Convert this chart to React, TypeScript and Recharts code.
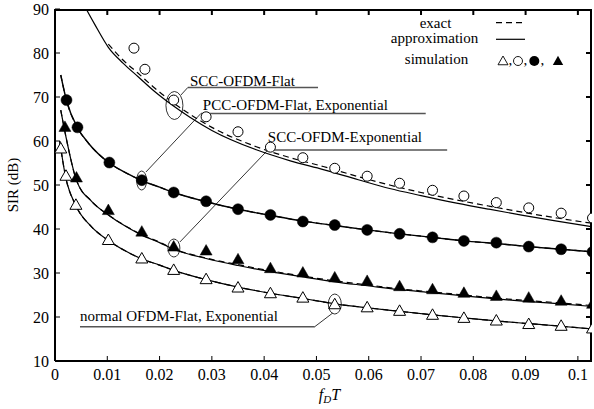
import React from 'react';
import {
  ComposedChart,
  Line,
  Scatter,
  XAxis,
  YAxis,
  ReferenceLine,
  ReferenceDot,
  Customized,
} from 'recharts';

const FONT = '"Liberation Serif", "Times New Roman", Times, serif';

// ---------- axes ----------
const xTicks = [0, 0.01, 0.02, 0.03, 0.04, 0.05, 0.06, 0.07, 0.08, 0.09, 0.1];
const xTickLabels = ['0', '0.01', '0.02', '0.03', '0.04', '0.05', '0.06', '0.07', '0.08', '0.09', '0.1'];
const yTicks = [10, 20, 30, 40, 50, 60, 70, 80, 90];
const xDomain = [0, 0.1027];
const yDomain = [10, 90];

// ---------- SCC-OFDM-Flat ----------
const sccFlatApproxX = [0.0056, 0.0076, 0.0102, 0.013, 0.0159, 0.019, 0.0226, 0.0258, 0.03, 0.0385, 0.045, 0.0513, 0.058, 0.064, 0.07, 0.0768, 0.083, 0.0895, 0.096, 0.1027];
const sccFlatApproxY = [90.8, 86.5, 81.3, 77.7, 74.6, 71.3, 68.0, 65.4, 62.4, 58.0, 55.5, 53.5, 51.2, 49.2, 47.6, 45.9, 44.5, 43.1, 41.8, 40.5];
const sccFlatExactX = [0.0102, 0.013, 0.0159, 0.019, 0.0226, 0.0258, 0.03, 0.0385, 0.045, 0.0513, 0.058, 0.064, 0.07, 0.0768, 0.083, 0.0895, 0.096, 0.1027];
const sccFlatExactY = [82.0, 78.4, 75.4, 72.1, 68.7, 66.1, 63.1, 58.7, 56.2, 54.2, 51.9, 50.0, 48.3, 46.6, 45.2, 43.8, 42.5, 41.3];
const sccFlatSimX = [0.0151, 0.0172, 0.0227, 0.0289, 0.035, 0.0412, 0.0474, 0.0535, 0.0597, 0.0659, 0.0722, 0.0782, 0.0844, 0.0906, 0.0968, 0.1028];
const sccFlatSimY = [81.1, 76.3, 69.3, 65.5, 62.1, 58.6, 56.2, 53.8, 52.0, 50.4, 48.8, 47.5, 46.0, 44.8, 43.6, 42.5];

// ---------- PCC-OFDM-Flat, Exponential ----------
const pccCurveX = [0.0011, 0.0022, 0.0043, 0.0064, 0.0104, 0.0135, 0.0166, 0.02, 0.0227, 0.0289, 0.035, 0.0412, 0.0474, 0.0535, 0.0597, 0.0659, 0.0722, 0.0782, 0.0844, 0.0906, 0.0968, 0.1027];
const pccApproxY = [75.0, 69.2, 63.0, 59.5, 55.0, 52.8, 51.0, 49.5, 48.3, 46.2, 44.5, 43.1, 41.8, 40.8, 39.8, 38.9, 38.1, 37.3, 36.7, 36.0, 35.4, 34.8];
const pccExactY = [75.0, 69.2, 63.0, 59.5, 55.0, 52.8, 51.0, 49.5, 48.3, 46.2, 44.5, 43.1, 41.8, 40.8, 39.8, 38.9, 38.1, 37.3, 36.7, 36.0, 35.4, 34.8];
const pccSimX = [0.0022, 0.0043, 0.0104, 0.0166, 0.0227, 0.0289, 0.035, 0.0412, 0.0474, 0.0535, 0.0597, 0.0659, 0.0722, 0.0782, 0.0844, 0.0906, 0.0968, 0.1028];
const pccSimY = [69.3, 63.1, 55.1, 51.1, 48.3, 46.3, 44.5, 43.2, 41.7, 40.9, 39.8, 38.9, 38.1, 37.3, 36.9, 36.0, 35.4, 34.8];

// ---------- SCC-OFDM-Exponential ----------
const sccExpCurveX = [0.0011, 0.002, 0.0041, 0.007, 0.0102, 0.0135, 0.0166, 0.02, 0.0227, 0.0289, 0.035, 0.0412, 0.0474, 0.0535, 0.0597, 0.0659, 0.0722, 0.0782, 0.0844, 0.0906, 0.0968, 0.1027];
const sccExpApproxY = [67.0, 61.5, 51.1, 46.3, 43.2, 40.6, 38.6, 36.9, 35.4, 33.3, 31.7, 30.3, 29.1, 28.0, 27.1, 26.2, 25.5, 24.8, 24.1, 23.5, 23.0, 22.4];
const sccExpExactY = [67.0, 61.5, 51.1, 46.3, 43.2, 40.7, 38.7, 37.0, 35.5, 33.4, 31.9, 30.5, 29.3, 28.2, 27.3, 26.4, 25.7, 25.0, 24.3, 23.7, 23.2, 22.6];
const sccExpSimX = [0.0019, 0.0041, 0.0102, 0.0166, 0.0227, 0.0289, 0.035, 0.0412, 0.0474, 0.0535, 0.0597, 0.0659, 0.0722, 0.0782, 0.0844, 0.0906, 0.0968, 0.1028];
const sccExpSimY = [63.2, 51.7, 44.3, 39.4, 36.0, 35.1, 33.1, 31.1, 30.1, 29.0, 28.2, 27.0, 26.3, 25.5, 24.8, 24.4, 23.7, 23.0];

// ---------- normal OFDM-Flat, Exponential ----------
const normCurveX = [0.0009, 0.002, 0.004, 0.007, 0.0102, 0.0135, 0.0166, 0.02, 0.0227, 0.0289, 0.035, 0.0412, 0.0474, 0.0535, 0.0597, 0.0659, 0.0722, 0.0782, 0.0844, 0.0906, 0.0968, 0.1027];
const normApproxY = [60.0, 52.0, 45.3, 40.5, 37.4, 35.0, 33.2, 31.8, 30.6, 28.5, 26.8, 25.4, 24.2, 23.0, 22.1, 21.3, 20.5, 19.8, 19.1, 18.5, 17.9, 17.3];
const normExactY = [60.0, 52.0, 45.3, 40.5, 37.4, 35.0, 33.2, 31.8, 30.6, 28.5, 26.8, 25.4, 24.2, 23.0, 22.1, 21.3, 20.5, 19.8, 19.1, 18.5, 17.9, 17.3];
const normSimX = [0.0011, 0.0021, 0.004, 0.0102, 0.0166, 0.0227, 0.0289, 0.035, 0.0412, 0.0474, 0.0535, 0.0597, 0.0659, 0.0722, 0.0782, 0.0844, 0.0906, 0.0968, 0.1028];
const normSimY = [58.3, 52.1, 45.5, 37.5, 33.3, 30.7, 28.6, 26.7, 25.4, 24.4, 22.9, 22.2, 21.4, 20.5, 19.8, 19.2, 18.4, 18.0, 17.4];

// ---------- annotations (data coordinates) ----------
const annLabels = ['SCC-OFDM-Flat', 'PCC-OFDM-Flat, Exponential', 'SCC-OFDM-Exponential', 'normal OFDM-Flat, Exponential'];
const annTextX = [0.0258, 0.02828, 0.0407, 0.00478];
const annTextY = [72.6, 67.05, 59.84, 19.16];
const annLineX1 = [0.0254, 0.0279, 0.0407, 0.00478];
const annLineX2 = [0.0503, 0.0709, 0.075, 0.04968];
const annLineY = [72.16, 66.25, 57.95, 17.8];
const annLeadFromX = [0.0254, 0.0279, 0.0407, 0.04968];
const annLeadFromY = [72.16, 66.25, 57.95, 17.8];
const annLeadToX = [0.02408, 0.01739, 0.02389, 0.05312];
const annLeadToY = [70.45, 52.95, 37.05, 20.91];
const annEllX = [0.02284, 0.01657, 0.02274, 0.05351];
const annEllY = [68.07, 51.02, 35.68, 22.95];
const annEllRx = [8.5, 5, 6, 6.5];
const annEllRy = [14, 9.5, 9, 10];

// legend texts
const legendLabels = ['exact', 'approximation', 'simulation'];

// chart layout
const W = 594;
const H = 409;
const MARGIN = { top: 9, right: 2, bottom: 0, left: 0 };
const Y_AXIS_W = 55;
const X_AXIS_H = 48;
const PLOT = {
  left: MARGIN.left + Y_AXIS_W,
  top: MARGIN.top,
  right: W - MARGIN.right,
  bottom: H - MARGIN.bottom - X_AXIS_H,
};

const zip = (xs: number[], ys: number[]) => xs.map((x, i) => ({ x, y: ys[i] }));

const OpenCircle = (p: any) => <circle cx={p.cx} cy={p.cy} r={5} fill="#fff" stroke="#000" strokeWidth={1} />;
const FilledCircle = (p: any) => <circle cx={p.cx} cy={p.cy} r={5.5} fill="#000" stroke="#000" strokeWidth={0.5} />;
const triPath = (cx: number, cy: number, s: number) =>
  `M${cx},${cy - s} L${cx + s},${cy + s * 0.75} L${cx - s},${cy + s * 0.75} Z`;
const OpenTriangle = (p: any) => <path d={triPath(p.cx, p.cy, 6)} fill="#fff" stroke="#000" strokeWidth={1} />;
const FilledTriangle = (p: any) => <path d={triPath(p.cx, p.cy, 6)} fill="#000" stroke="#000" strokeWidth={0.5} />;

// mirrored frame (top and right edges) with inward ticks, drawn as one path
const Frame = () => {
  const { left, top, right, bottom } = PLOT;
  const px = (v: number) => left + ((v - xDomain[0]) / (xDomain[1] - xDomain[0])) * (right - left);
  const py = (v: number) => bottom - ((v - yDomain[0]) / (yDomain[1] - yDomain[0])) * (bottom - top);
  const t = top + 1;
  const r = right - 1;
  let d = `M${left},${t} L${r},${t} L${r},${bottom}`;
  xTicks.slice(1).forEach((v) => {
    d += ` M${px(v)},${t} L${px(v)},${t + 5}`;
  });
  yTicks.slice(1, -1).forEach((v) => {
    d += ` M${r},${py(v)} L${r - 5},${py(v)}`;
  });
  return <path d={d} fill="none" stroke="#000" strokeWidth={2} />;
};

const LegendBox = () => (
  <g fontFamily={FONT} fontSize={15} fill="#000">
    <text x={435.5} y={27.5} textAnchor="middle">{legendLabels[0]}</text>
    <text x={434.5} y={43} textAnchor="middle">{legendLabels[1]}</text>
    <text x={436.5} y={64} textAnchor="middle">{legendLabels[2]}</text>
    <line x1={496} x2={524} y1={22.7} y2={22.7} stroke="#000" strokeWidth={1.2} strokeDasharray="6 4" />
    <line x1={496} x2={525} y1={39.3} y2={39.3} stroke="#000" strokeWidth={1.2} />
    <path d={triPath(503, 61, 5)} fill="#fff" stroke="#000" strokeWidth={0.9} />
    <text x={508.5} y={65}>,</text>
    <circle cx={518} cy={61} r={4.5} fill="#fff" stroke="#000" strokeWidth={0.9} />
    <text x={523.5} y={65}>,</text>
    <circle cx={534.3} cy={61} r={5} fill="#000" />
    <text x={540.5} y={65}>,</text>
    <path d={triPath(558, 61, 5.2)} fill="#000" />
    <Frame />
  </g>
);

const XLabel = (props: any) => {
  const vb = props.viewBox || { x: 55, y: 361, width: 537, height: 48 };
  const cx = vb.x + vb.width / 2 + 6;
  return (
    <text x={cx} y={vb.y + 39} textAnchor="middle" fontFamily={FONT} fontSize={16} fill="#000">
      <tspan fontStyle="italic">f</tspan>
      <tspan fontStyle="italic" fontSize={11} dy={3}>D</tspan>
      <tspan fontStyle="italic" dy={-3}>T</tspan>
    </text>
  );
};

const YLabel = (props: any) => {
  const vb = props.viewBox || { x: 0, y: 9, width: 55, height: 352 };
  const cx = 13;
  const cy = vb.y + vb.height / 2;
  return (
    <text
      x={cx}
      y={cy}
      transform={`rotate(-90, ${cx}, ${cy})`}
      textAnchor="middle"
      dominantBaseline="central"
      fontFamily={FONT}
      fontSize={15}
      fill="#000"
    >
      SIR (dB)
    </text>
  );
};

const tickStyle = { fill: '#000', fontSize: 16, fontFamily: FONT };

export default function App() {
  return (
    <div style={{ position: 'absolute', left: 0, top: 0, width: W, height: H, background: '#fff' }}>
      <ComposedChart width={W} height={H} margin={MARGIN}>
        <XAxis
          dataKey="x"
          type="number"
          domain={xDomain}
          ticks={xTicks}
          allowDataOverflow
          tickFormatter={(v: number) => xTickLabels[xTicks.indexOf(v)] ?? String(v)}
          height={X_AXIS_H}
          tickSize={-5}
          tickMargin={13}
          tick={tickStyle}
          axisLine={{ stroke: '#000', strokeWidth: 2 }}
          tickLine={{ stroke: '#000', strokeWidth: 1 }}
          label={<XLabel />}
        />
        <YAxis
          dataKey="y"
          type="number"
          domain={yDomain}
          ticks={yTicks}
          allowDataOverflow
          width={Y_AXIS_W}
          tickSize={-5}
          tickMargin={11}
          tick={tickStyle}
          axisLine={{ stroke: '#000', strokeWidth: 2 }}
          tickLine={{ stroke: '#000', strokeWidth: 1 }}
          label={<YLabel />}
        />

        {/* exact (dashed) */}
        <Line data={zip(sccFlatExactX, sccFlatExactY)} dataKey="y" type="monotone" stroke="#000" strokeWidth={1.2} strokeDasharray="6 4" dot={false} activeDot={false} isAnimationActive={false} />
        <Line data={zip(pccCurveX, pccExactY)} dataKey="y" type="monotone" stroke="#000" strokeWidth={1.2} strokeDasharray="6 4" dot={false} activeDot={false} isAnimationActive={false} />
        <Line data={zip(sccExpCurveX, sccExpExactY)} dataKey="y" type="monotone" stroke="#000" strokeWidth={1.2} strokeDasharray="6 4" dot={false} activeDot={false} isAnimationActive={false} />
        <Line data={zip(normCurveX, normExactY)} dataKey="y" type="monotone" stroke="#000" strokeWidth={1.2} strokeDasharray="6 4" dot={false} activeDot={false} isAnimationActive={false} />

        {/* approximation (solid) */}
        <Line data={zip(sccFlatApproxX, sccFlatApproxY)} dataKey="y" type="monotone" stroke="#000" strokeWidth={1.2} dot={false} activeDot={false} isAnimationActive={false} />
        <Line data={zip(pccCurveX, pccApproxY)} dataKey="y" type="monotone" stroke="#000" strokeWidth={1.4} dot={false} activeDot={false} isAnimationActive={false} />
        <Line data={zip(sccExpCurveX, sccExpApproxY)} dataKey="y" type="monotone" stroke="#000" strokeWidth={1.2} dot={false} activeDot={false} isAnimationActive={false} />
        <Line data={zip(normCurveX, normApproxY)} dataKey="y" type="monotone" stroke="#000" strokeWidth={1.2} dot={false} activeDot={false} isAnimationActive={false} />

        {/* simulation markers */}
        <Scatter data={zip(sccFlatSimX, sccFlatSimY)} shape={OpenCircle} isAnimationActive={false} />
        <Scatter data={zip(pccSimX, pccSimY)} shape={FilledCircle} isAnimationActive={false} />
        <Scatter data={zip(sccExpSimX, sccExpSimY)} shape={FilledTriangle} isAnimationActive={false} />
        <Scatter data={zip(normSimX, normSimY)} shape={OpenTriangle} isAnimationActive={false} />

        {/* annotations */}
        {annLabels.map((_, i) => (
          <ReferenceLine
            key={`ul${i}`}
            segment={[{ x: annLineX1[i], y: annLineY[i] }, { x: annLineX2[i], y: annLineY[i] }]}
            stroke="#555"
            strokeWidth={1.5}
          />
        ))}
        {annLabels.map((_, i) => (
          <ReferenceLine
            key={`ld${i}`}
            segment={[{ x: annLeadFromX[i], y: annLeadFromY[i] }, { x: annLeadToX[i], y: annLeadToY[i] }]}
            stroke="#000"
            strokeWidth={0.8}
          />
        ))}
        {annLabels.map((_, i) => (
          <ReferenceDot
            key={`el${i}`}
            x={annEllX[i]}
            y={annEllY[i]}
            r={1}
            shape={(p: any) => (
              <ellipse cx={p.cx} cy={p.cy} rx={annEllRx[i]} ry={annEllRy[i]} fill="none" stroke="#000" strokeWidth={0.8} />
            )}
          />
        ))}
        {annLabels.map((label, i) => (
          <ReferenceDot
            key={`tx${i}`}
            x={annTextX[i]}
            y={annTextY[i]}
            r={1}
            shape={(p: any) => (
              <text x={p.cx} y={p.cy} fontFamily={FONT} fontSize={15} fill="#000" textAnchor="start">
                {label}
              </text>
            )}
          />
        ))}

        <Customized component={LegendBox} />
      </ComposedChart>
    </div>
  );
}
